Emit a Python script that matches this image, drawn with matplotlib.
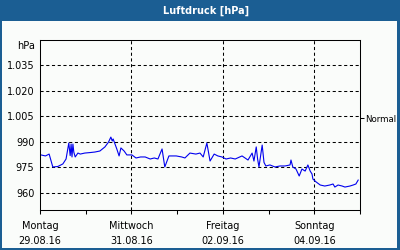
import matplotlib
matplotlib.use("Agg")
import matplotlib.pyplot as plt
from matplotlib.patches import Rectangle

# days since Montag 29.08.16 00:00 and pressure in hPa
days = [0.02, 0.12, 0.20, 0.28, 0.39, 0.50, 0.57, 0.63, 0.66, 0.68, 0.70, 0.72,
        0.74, 0.77, 0.83, 0.88, 0.98, 1.10, 1.20, 1.31, 1.42, 1.50, 1.55, 1.58,
        1.60, 1.68, 1.73, 1.77, 1.84, 1.90, 2.01, 2.10, 2.20, 2.30, 2.41, 2.50,
        2.58, 2.67, 2.73, 2.82, 2.98, 3.10, 3.17, 3.28, 3.41, 3.50, 3.57, 3.65,
        3.72, 3.81, 3.89, 3.98, 4.07, 4.17, 4.27, 4.42, 4.55, 4.64, 4.68, 4.73,
        4.76, 4.79, 4.86, 4.90, 4.94, 5.03, 5.14, 5.25, 5.36, 5.47, 5.49, 5.53,
        5.60, 5.67, 5.73, 5.80, 5.86, 5.91, 5.95, 5.97, 6.04, 6.13, 6.23, 6.34,
        6.41, 6.45, 6.52, 6.61, 6.67, 6.78, 6.85, 6.91, 6.96]
pressure = [982.4, 981.8, 982.9, 975.3, 975.6, 977.1, 980.0, 989.4, 982.0, 988.8, 981.2, 988.8,
            984.0, 981.2, 983.5, 982.9, 983.5, 983.8, 984.1, 984.7, 987.1, 990.0, 992.9, 990.6,
            991.8, 985.9, 981.8, 986.5, 984.7, 982.4, 982.4, 980.6, 981.2, 981.2, 980.0, 980.6,
            980.0, 985.9, 975.3, 981.8, 981.8, 981.2, 980.6, 983.5, 982.9, 983.5, 981.2, 989.4,
            978.8, 982.9, 981.8, 981.2, 980.0, 980.6, 980.0, 981.8, 979.4, 983.5, 978.8, 987.1,
            980.0, 975.3, 988.2, 978.0, 975.9, 976.5, 975.3, 975.9, 975.9, 976.5, 979.4, 975.3,
            974.1, 970.0, 974.1, 972.9, 976.5, 972.9, 971.2, 968.2, 966.5, 964.7, 964.1, 964.7,
            965.3, 963.5, 964.7, 964.1, 963.5, 964.1, 964.7, 965.3, 967.6]

y_ticks = [960, 975, 990, 1005, 1020, 1035]
y_tick_labels = ["960", "975", "990", "1.005", "1.020", "1.035"]
x_ticks = [0, 2, 4, 6]
x_tick_labels = ["Montag\n29.08.16", "Mittwoch\n31.08.16", "Freitag\n02.09.16", "Sonntag\n04.09.16"]
normal_value = 1004

frame_blue = "#1b5e93"
bg = "#fafcfa"

fig = plt.figure(figsize=(4, 2.5), dpi=100)
fig.patch.set_facecolor(bg)

# outer frame and title bar
fig.patches.append(Rectangle((0, 1 - 21 / 250), 1, 21 / 250, transform=fig.transFigure,
                             facecolor=frame_blue, edgecolor="none", zorder=0))
fig.patches.append(Rectangle((0, 0), 1.5 / 400, 1, transform=fig.transFigure,
                             facecolor=frame_blue, edgecolor="none", zorder=0))
fig.patches.append(Rectangle((1 - 3 / 400, 0), 3 / 400, 1, transform=fig.transFigure,
                             facecolor=frame_blue, edgecolor="none", zorder=0))
fig.patches.append(Rectangle((0, 0), 1, 2 / 250, transform=fig.transFigure,
                             facecolor=frame_blue, edgecolor="none", zorder=0))
fig.text(0.515, 1 - 10.5 / 250, "Luftdruck [hPa]", color="white", fontsize=7, fontweight="bold",
         ha="center", va="center")

ax = fig.add_axes([0.1, 0.16, 0.8, 0.68])
ax.set_facecolor(bg)
ax.plot(days, pressure, color="#0000ee", linewidth=0.8)

ax.set_xlim(0, 7)
ax.set_ylim(950, 1050)

dash = (0, (3, 2.5))
for v in y_ticks:
    ax.axhline(v, color="black", linewidth=0.75, linestyle=dash, zorder=0)
for v in [2, 4, 6]:
    ax.axvline(v, color="black", linewidth=0.75, linestyle=dash, zorder=0)

ax.set_yticks(y_ticks)
ax.set_yticklabels(y_tick_labels)
ax.tick_params(axis="y", length=0, pad=4, labelsize=7)

ax.set_xticks(x_ticks)
ax.set_xticklabels(x_tick_labels, linespacing=1.6)
ax.set_xticks([0, 1, 2, 3, 4, 5, 6, 7], minor=True)
ax.tick_params(axis="x", which="both", direction="out", length=3, width=0.75, labelsize=7, pad=5)

for s in ax.spines.values():
    s.set_linewidth(0.75)

ax.text(-0.015, 0.965, "hPa", transform=ax.transAxes, ha="right", va="center", fontsize=7)

ax2 = ax.twinx()
ax2.set_ylim(950, 1050)
ax2.set_yticks([normal_value])
ax2.set_yticklabels(["Normal"])
ax2.tick_params(axis="y", length=3, width=0.75, pad=0.5, labelsize=6.2)
for s in ax2.spines.values():
    s.set_visible(False)

fig.savefig("out.png", dpi=100, facecolor=bg)
